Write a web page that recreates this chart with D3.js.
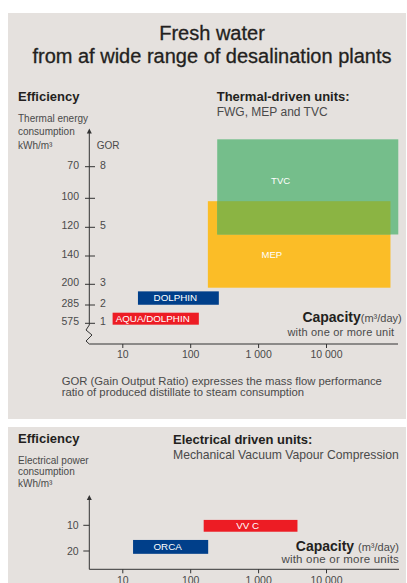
<!DOCTYPE html>
<html>
<head>
<meta charset="utf-8">
<script src="https://cdn.jsdelivr.net/npm/d3@7/dist/d3.min.js"></script>
<style>
  body { margin: 0; background: #fff; }
  svg { display: block; font-family: "Liberation Sans", Arial, sans-serif; }
</style>
</head>
<body>
<svg id="chart" width="407" height="583"></svg>
<script>
// ---- data ----
const capacityTicks = [10, 100, 1000, 10000];
const capacityLabels = ["10", "100", "1 000", "10 000"];

const thermalEnergyTicks = [70, 100, 120, 140, 200, 285, 575];
const gorTicks = ["8", "", "5", "", "3", "2", "1"];

// capacity range m3/day, energy range kWh/m3
const thermalBlocks = [
  {name: "MEP", cap: [182, 89000], energy: [102, 214]},
  {name: "TVC", cap: [250, 116000], energy: [44, 125]}
];
const thermalBars = [
  {name: "DOLPHIN", cap: [17, 264], energy: [229, 284]},
  {name: "AQUA/DOLPHIN", cap: [7.2, 134], energy: [407, 597]}
];

const electricTicks = [10, 20];
const electricBars = [
  {name: "VV C", cap: [158, 3800], energy: [7.9, 12.5]},
  {name: "ORCA", cap: [14.4, 184], energy: [15.7, 21.1]}
];

// ---- styles ----
const colors = {
  panel: "#e5e1de",
  ink: "#231f20",
  grey: "#4a4a4a",
  MEP: "#fbbd27",
  TVC: "#75be8b",
  overlap: "#8bb443",
  "DOLPHIN": "#003f8a",
  "AQUA/DOLPHIN": "#ed1c24",
  "VV C": "#ed1c24",
  "ORCA": "#003f8a"
};

const svg = d3.select("#chart");

// panels
svg.append("rect").attr("x", 8).attr("y", 13).attr("width", 398).attr("height", 406).attr("fill", colors.panel);
svg.append("rect").attr("x", 8).attr("y", 427).attr("width", 398).attr("height", 160).attr("fill", colors.panel);

function text(x, y, str, size, opts = {}) {
  return svg.append("text")
    .attr("x", x).attr("y", y)
    .attr("dy", opts.dy !== undefined ? opts.dy : "0.35em")
    .attr("font-size", size)
    .attr("font-weight", opts.bold ? "bold" : null)
    .attr("text-anchor", opts.anchor || "start")
    .attr("fill", opts.fill || colors.grey)
    .text(str);
}

// x scale shared by both charts
const x = d3.scaleLog().domain([10, 10000]).range([122.3, 326]);

function xAxis(y0, xEnd) {
  svg.append("line").attr("x1", 89.3).attr("x2", xEnd).attr("y1", y0).attr("y2", y0)
    .attr("stroke", "#333").attr("stroke-width", 1);
  const g = svg.append("g").attr("transform", `translate(0,${y0})`)
    .call(d3.axisBottom(x).tickValues(capacityTicks)
      .tickFormat((d, i) => capacityLabels[i]).tickSize(4).tickPadding(3));
  g.select(".domain").remove();
  g.selectAll("line").attr("stroke", "#333");
  g.selectAll("text").attr("font-size", 10.5).attr("fill", colors.grey)
    .attr("font-family", "Liberation Sans, Arial, sans-serif");
}

function arrow(xa, ytip) {
  svg.append("path")
    .attr("d", `M${xa},${ytip} L${xa - 2.5},${ytip + 5} L${xa + 2.5},${ytip + 5} Z`)
    .attr("fill", "#333");
}

// ================= chart 1 =================
text(212, 40, "Fresh water", 20, {anchor: "middle", fill: colors.ink, dy: 0})
  .attr("stroke", colors.ink).attr("stroke-width", 0.3);
text(212, 63, "from af wide range of desalination plants", 20, {anchor: "middle", fill: colors.ink, dy: 0})
  .attr("stroke", colors.ink).attr("stroke-width", 0.3);

text(18, 96.7, "Efficiency", 13, {bold: true, fill: colors.ink});
text(18, 118.3, "Thermal energy", 10, {});
text(18, 131.7, "consumption", 10, {});
text(18, 145, "kWh/m³", 10, {});
text(96.7, 145, "GOR", 10, {});

text(216.7, 96.7, "Thermal-driven units:", 13, {bold: true, fill: colors.ink});
text(216.7, 111.7, "FWG, MEP and TVC", 12, {});

// hand-drawn (uneven) energy axis -> polylinear scale
const y1 = d3.scaleLinear().domain(thermalEnergyTicks)
  .range([166.7, 198.3, 227.3, 256, 284.3, 305, 323.3]);

// big blocks
thermalBlocks.forEach(b => {
  svg.append("rect")
    .attr("x", x(b.cap[0])).attr("width", x(b.cap[1]) - x(b.cap[0]))
    .attr("y", y1(b.energy[0])).attr("height", y1(b.energy[1]) - y1(b.energy[0]))
    .attr("fill", colors[b.name]);
});
// overlap of MEP and TVC
const mep = thermalBlocks[0], tvc = thermalBlocks[1];
const ox0 = Math.max(x(mep.cap[0]), x(tvc.cap[0])), ox1 = Math.min(x(mep.cap[1]), x(tvc.cap[1]));
const oy0 = Math.max(y1(mep.energy[0]), y1(tvc.energy[0])), oy1 = Math.min(y1(mep.energy[1]), y1(tvc.energy[1]));
svg.append("rect").attr("x", ox0).attr("y", oy0).attr("width", ox1 - ox0).attr("height", oy1 - oy0)
  .attr("fill", colors.overlap);

const blockLabel = {MEP: [0.35, 0.62], TVC: [0.35, 0.43]};
thermalBlocks.forEach(b => {
  const x0 = x(b.cap[0]), w = x(b.cap[1]) - x0;
  const yy0 = y1(b.energy[0]), h = y1(b.energy[1]) - yy0;
  text(x0 + w * blockLabel[b.name][0], yy0 + h * blockLabel[b.name][1], b.name, 9.5, {fill: "#fff", anchor: "middle"});
});

// small bars
function bars(data, y) {
  data.forEach(b => {
    const x0 = x(b.cap[0]), x1 = x(b.cap[1]);
    const yy0 = y(b.energy[0]), yy1 = y(b.energy[1]);
    svg.append("rect").attr("x", x0).attr("width", x1 - x0)
      .attr("y", yy0).attr("height", yy1 - yy0).attr("fill", colors[b.name]);
    text((x0 + x1) / 2 - 3, (yy0 + yy1) / 2, b.name, 9.8, {fill: "#fff", anchor: "middle"});
  });
}
bars(thermalBars, y1);

// y axis with break
arrow(89.3, 128.5);
svg.append("path")
  .attr("d", `M89.3,132 L89.3,325 L86,330 L92,335 L86,341 L89.3,344`)
  .attr("fill", "none").attr("stroke", "#333").attr("stroke-width", 1);

thermalEnergyTicks.forEach((t, i) => {
  svg.append("line").attr("x1", 85).attr("x2", 95).attr("y1", y1(t)).attr("y2", y1(t))
    .attr("stroke", "#333");
  text(79, y1(t) - 1.5, t, 10.5, {anchor: "end"});
  if (gorTicks[i]) text(100, y1(t) - 1.5, gorTicks[i], 10.5, {});
});

xAxis(344, 398);

// capacity caption
const cap1 = svg.append("text").attr("x", 401.7).attr("y", 316.7).attr("dy", "0.35em")
  .attr("text-anchor", "end");
cap1.append("tspan").attr("font-size", 14).attr("font-weight", "bold").attr("fill", colors.ink).text("Capacity");
cap1.append("tspan").attr("font-size", 11).attr("fill", colors.grey).text("(m³/day)");
text(394.3, 332, "with one or more unit", 11, {anchor: "end"}).attr("letter-spacing", 0.2);

text(61.7, 380.7, "GOR (Gain Output Ratio) expresses the mass flow performance", 11.3, {});
text(61.7, 392.3, "ratio of produced distillate to steam consumption", 11.3, {});

// ================= chart 2 =================
text(18, 438.3, "Efficiency", 13, {bold: true, fill: colors.ink});
text(18, 460.7, "Electrical power", 10, {});
text(18, 471.7, "consumption", 10, {});
text(18, 483.3, "kWh/m³", 10, {});

text(173, 439, "Electrical driven units:", 13, {bold: true, fill: colors.ink});
text(173, 454.3, "Mechanical Vacuum Vapour Compression", 12.2, {});

const y2 = d3.scaleLinear().domain([10, 20]).range([525.3, 551]);

bars(electricBars, y2);

arrow(89.3, 495);
svg.append("line").attr("x1", 89.3).attr("x2", 89.3).attr("y1", 499).attr("y2", 569.3)
  .attr("stroke", "#333");
electricTicks.forEach(t => {
  svg.append("line").attr("x1", 83.3).attr("x2", 89.3).attr("y1", y2(t)).attr("y2", y2(t))
    .attr("stroke", "#333");
  text(78.7, y2(t), t, 10.5, {anchor: "end"});
});

xAxis(569.3, 399);

const cap2 = svg.append("text").attr("x", 399).attr("y", 545.7).attr("dy", "0.35em")
  .attr("text-anchor", "end");
cap2.append("tspan").attr("font-size", 14).attr("font-weight", "bold").attr("fill", colors.ink).text("Capacity ");
cap2.append("tspan").attr("font-size", 11).attr("fill", colors.grey).text("(m³/day)");
text(399, 559.3, "with one or more units", 11.5, {anchor: "end"}).attr("letter-spacing", 0.2);
</script>
</body>
</html>
